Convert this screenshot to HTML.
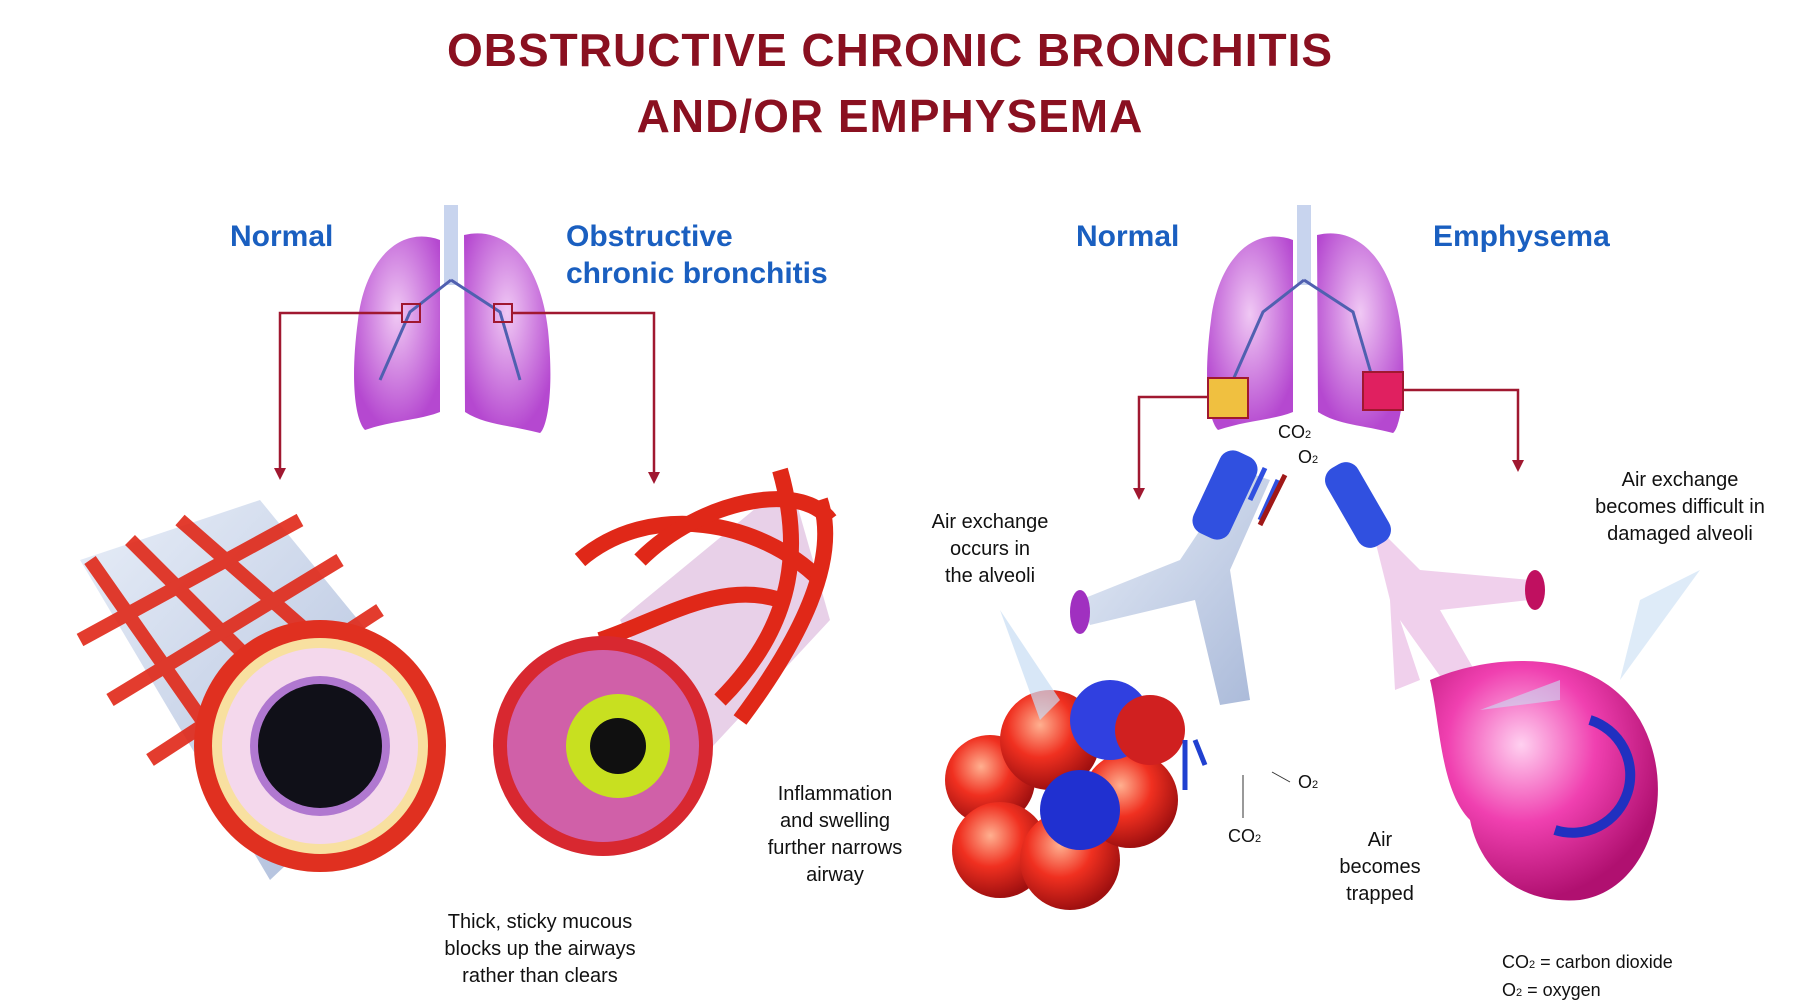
<!DOCTYPE html>
<html><head><meta charset="utf-8"><style>
html,body{margin:0;padding:0;background:#fff}
svg{display:block}
.t{font-family:"Liberation Sans",sans-serif;font-weight:bold;fill:#8a1020;font-size:46px;text-anchor:middle;letter-spacing:1px}
.b{font-family:"Liberation Sans",sans-serif;fill:#1a5fc0;font-size:30px;font-weight:bold}
.s{font-family:"Liberation Sans",sans-serif;fill:#111;font-size:20px;text-anchor:middle}
.c{stroke:#a01830;stroke-width:2.5;fill:none}
</style></head><body>
<svg width="1800" height="1008" viewBox="0 0 1800 1008" xmlns="http://www.w3.org/2000/svg">
<defs>
<radialGradient id="lung" cx="50%" cy="40%" r="60%"><stop offset="0" stop-color="#f0c8f4"/><stop offset="1" stop-color="#b548d0"/></radialGradient>
<radialGradient id="red" cx="40%" cy="35%" r="65%"><stop offset="0" stop-color="#ffb090"/><stop offset="0.5" stop-color="#f03020"/><stop offset="1" stop-color="#a01010"/></radialGradient>
<radialGradient id="pink" cx="40%" cy="35%" r="65%"><stop offset="0" stop-color="#ffd0f0"/><stop offset="0.5" stop-color="#f040b0"/><stop offset="1" stop-color="#b01070"/></radialGradient>
<linearGradient id="tube" x1="0" y1="0" x2="1" y2="1"><stop offset="0" stop-color="#e8eef8"/><stop offset="1" stop-color="#a8b8d8"/></linearGradient>
<marker id="ar" markerWidth="10" markerHeight="10" refX="5" refY="8" orient="auto"><path d="M1,0 L5,8 L9,0 Z" fill="#a01830" transform="rotate(-90 5 5)"/></marker>
</defs>
<text class="t" x="890" y="66">OBSTRUCTIVE CHRONIC BRONCHITIS</text>
<text class="t" x="890" y="132">AND/OR EMPHYSEMA</text>

<text class="b" x="230" y="246">Normal</text>
<text class="b" x="566" y="246">Obstructive</text>
<text class="b" x="566" y="283">chronic bronchitis</text>
<text class="b" x="1076" y="246">Normal</text>
<text class="b" x="1433" y="246">Emphysema</text>

<!-- lungs left -->
<g>
<rect x="444" y="205" width="14" height="80" fill="#c8d4ee"/>
<path d="M440,240 C400,225 365,260 358,320 C350,380 355,420 365,430 C395,420 420,420 440,412 Z" fill="url(#lung)"/>
<path d="M464,235 C505,225 540,260 548,330 C555,400 545,430 540,433 C510,425 485,425 465,412 Z" fill="url(#lung)"/>
<path d="M451,280 L410,312 L380,380 M451,280 L500,312 L520,380" stroke="#5060b0" stroke-width="3" fill="none"/>
<rect x="402" y="304" width="18" height="18" fill="none" stroke="#a01830" stroke-width="2"/>
<rect x="494" y="304" width="18" height="18" fill="none" stroke="#a01830" stroke-width="2"/>
</g>
<!-- lungs right -->
<g>
<rect x="1297" y="205" width="14" height="80" fill="#c8d4ee"/>
<path d="M1293,240 C1253,225 1218,260 1211,320 C1203,380 1208,420 1218,430 C1248,420 1273,420 1293,412 Z" fill="url(#lung)"/>
<path d="M1317,235 C1358,225 1393,260 1401,330 C1408,400 1398,430 1393,433 C1363,425 1338,425 1318,412 Z" fill="url(#lung)"/>
<path d="M1304,280 L1263,312 L1233,380 M1304,280 L1353,312 L1373,380" stroke="#5060b0" stroke-width="3" fill="none"/>
<rect x="1208" y="378" width="40" height="40" fill="#f0c040" stroke="#a01830" stroke-width="2"/>
<rect x="1363" y="372" width="40" height="38" fill="#e02060" stroke="#a01830" stroke-width="2"/>
</g>

<!-- connectors -->
<path class="c" d="M402,313 H280 V470"/><path d="M274,468 L280,480 L286,468Z" fill="#a01830"/>
<path class="c" d="M512,313 H654 V474"/><path d="M648,472 L654,484 L660,472Z" fill="#a01830"/>
<path class="c" d="M1208,397 H1139 V490"/><path d="M1133,488 L1139,500 L1145,488Z" fill="#a01830"/>
<path class="c" d="M1403,390 H1518 V462"/><path d="M1512,460 L1518,472 L1524,460Z" fill="#a01830"/>

<!-- normal airway tube -->
<path d="M80,560 L260,500 L440,720 L270,880 Z" fill="url(#tube)"/>
<g stroke="#e02818" stroke-width="14" fill="none" opacity="0.9">
<path d="M90,560 L230,760"/><path d="M130,540 L290,700"/><path d="M180,520 L340,660"/>
<path d="M80,640 L300,520"/><path d="M110,700 L340,560"/><path d="M150,760 L380,610"/>
</g>
<circle cx="320" cy="746" r="126" fill="#e03020"/>
<circle cx="320" cy="746" r="108" fill="#f8e0a0"/>
<circle cx="320" cy="746" r="98" fill="#f4d8ec"/>
<circle cx="320" cy="746" r="70" fill="#b078d0"/>
<circle cx="320" cy="746" r="62" fill="#101018"/>

<!-- bronchitis airway -->
<path d="M620,620 L790,480 L830,620 L700,760 Z" fill="#e8d0e8"/>
<g stroke="#e02818" stroke-width="16" fill="none">
<path d="M580,560 C650,500 760,520 820,580"/><path d="M640,560 C700,500 800,480 830,520"/>
<path d="M780,470 C800,540 800,620 720,700"/><path d="M820,500 C840,560 800,640 740,720"/>
<path d="M600,640 C660,620 720,580 780,600"/>
</g>
<circle cx="603" cy="746" r="110" fill="#d82830"/>
<circle cx="603" cy="746" r="96" fill="#d060a8"/>
<circle cx="618" cy="746" r="52" fill="#c8e020"/>
<circle cx="618" cy="746" r="28" fill="#101010"/>

<!-- normal alveoli -->
<g>
<path d="M1080,600 L1180,560 L1240,470 L1270,480 L1230,570 L1250,700 L1220,705 L1195,600 L1090,625 Z" fill="url(#tube)"/>
<ellipse cx="1080" cy="612" rx="10" ry="22" fill="#a030c0"/>
<rect x="1205" y="450" width="40" height="90" rx="14" transform="rotate(25 1225 495)" fill="#3050e0"/>
<circle cx="990" cy="780" r="45" fill="url(#red)"/><circle cx="1050" cy="740" r="50" fill="url(#red)"/>
<circle cx="1000" cy="850" r="48" fill="url(#red)"/><circle cx="1070" cy="860" r="50" fill="url(#red)"/>
<circle cx="1130" cy="800" r="48" fill="url(#red)"/><circle cx="1080" cy="810" r="40" fill="#2030d0"/>
<circle cx="1110" cy="720" r="40" fill="#3040e0"/><circle cx="1150" cy="730" r="35" fill="#d02020"/>
<path d="M1185,740 V790 M1195,740 L1205,765" stroke="#2040d0" stroke-width="5"/>
<path d="M1265,468 L1250,500 M1278,480 L1260,520" stroke="#3050e0" stroke-width="5"/>
<path d="M1285,475 L1260,525" stroke="#a01818" stroke-width="5"/>
</g>
<path d="M1000,610 L1060,700 L1040,720 Z" fill="#c8ddf4" opacity="0.7"/>

<!-- emphysema -->
<g>
<path d="M1370,520 L1420,570 L1530,580 L1530,600 L1440,610 L1480,680 L1450,690 L1400,620 L1420,680 L1395,690 L1390,600 Z" fill="#f0d0ec"/>
<ellipse cx="1535" cy="590" rx="10" ry="20" fill="#c01060"/>
<rect x="1340" y="460" width="36" height="90" rx="14" transform="rotate(-30 1358 505)" fill="#3050e0"/>
<path d="M1430,680 C1500,650 1600,650 1640,720 C1680,790 1650,890 1580,900 C1520,905 1480,870 1470,820 C1440,790 1440,720 1430,680 Z" fill="url(#pink)"/>
<path d="M1590,720 A55,55 0 1 1 1555,830" stroke="#2030c0" stroke-width="10" fill="none"/>
<path d="M1480,710 L1560,680 L1560,700 Z" fill="#c8ddf4" opacity="0.6"/>
</g>
<path d="M1640,600 L1700,570 L1620,680 Z" fill="#c8ddf4" opacity="0.6"/>

<!-- labels -->
<g class="s">
<text x="835" y="800">Inflammation</text><text x="835" y="827">and swelling</text><text x="835" y="854">further narrows</text><text x="835" y="881">airway</text>
<text x="540" y="928">Thick, sticky mucous</text><text x="540" y="955">blocks up the airways</text><text x="540" y="982">rather than clears</text>
<text x="990" y="528">Air exchange</text><text x="990" y="555">occurs in</text><text x="990" y="582">the alveoli</text>
<text x="1680" y="486">Air exchange</text><text x="1680" y="513">becomes difficult in</text><text x="1680" y="540">damaged alveoli</text>
<text x="1380" y="846">Air</text><text x="1380" y="873">becomes</text><text x="1380" y="900">trapped</text>
</g>
<g font-family="Liberation Sans,sans-serif" font-size="18" fill="#111">
<text x="1278" y="438">CO<tspan font-size="11">2</tspan></text>
<text x="1298" y="463">O<tspan font-size="11">2</tspan></text>
<text x="1298" y="788">O<tspan font-size="11">2</tspan></text>
<text x="1228" y="842">CO<tspan font-size="11">2</tspan></text>
<text x="1502" y="968">CO<tspan font-size="11">2</tspan>   =   carbon dioxide</text>
<text x="1502" y="996">O<tspan font-size="11">2</tspan>      =   oxygen</text>
</g>
<path d="M1243,775 V818 M1272,772 L1290,782" stroke="#333" stroke-width="1"/>
</svg>
</body></html>
